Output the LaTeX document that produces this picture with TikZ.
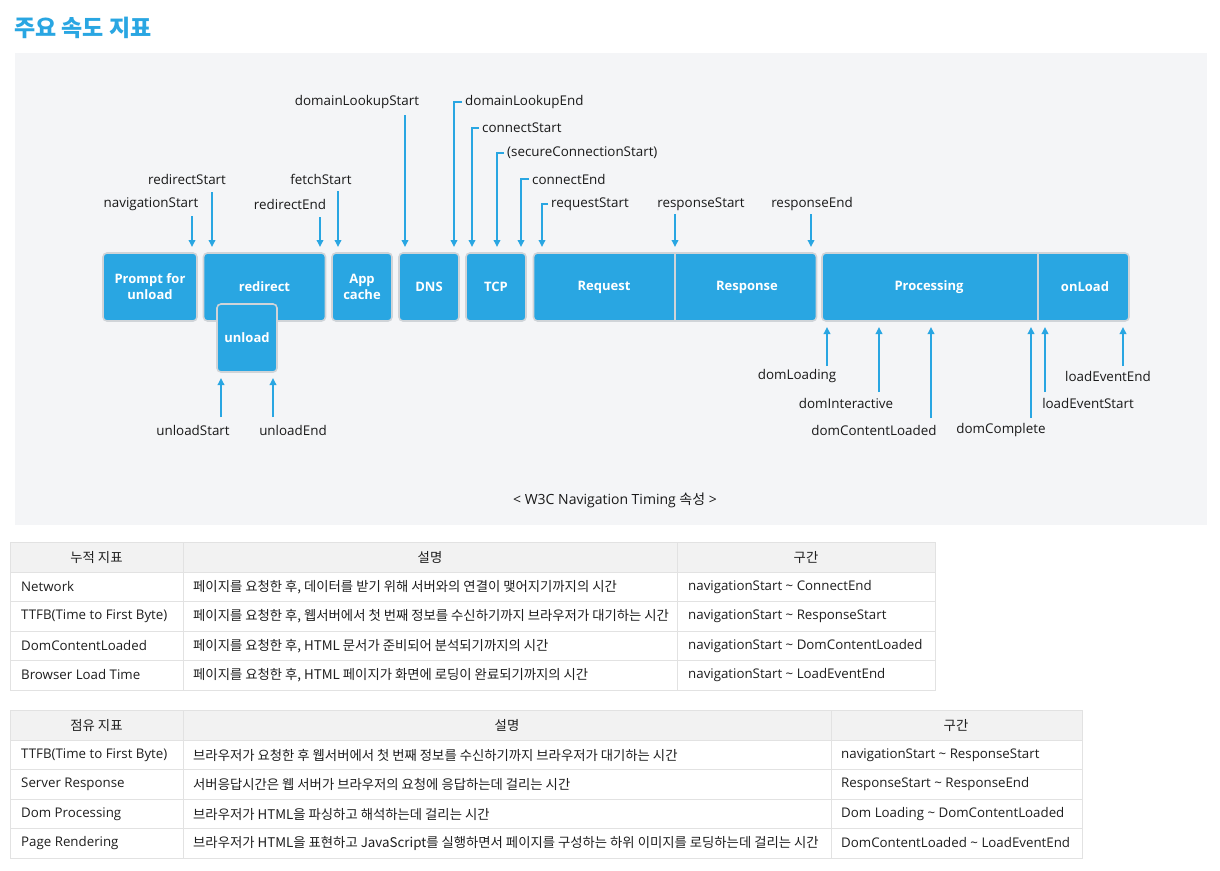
\documentclass[tikz,border=0pt]{standalone}
\usepackage{fontspec}
\setmainfont{Open Sans}
\newfontfamily\kr{Noto Sans CJK KR}
\usetikzlibrary{arrows.meta}
\definecolor{tblue}{RGB}{41,166,226}
\definecolor{bgray}{RGB}{208,212,216}
\definecolor{panel}{RGB}{244,245,247}
\definecolor{ltext}{RGB}{25,25,25}
\definecolor{tline}{RGB}{226,226,226}
\definecolor{thead}{RGB}{242,242,242}
\definecolor{ttext}{RGB}{30,30,30}
\newcommand\boxf{\fontsize{13}{16}\selectfont\bfseries}
\newcommand\labf{\fontsize{13.4}{16}\selectfont}
\newcommand\tabf{\fontsize{13.3}{16}\selectfont}
\newcommand\tabk{\kr\fontsize{13.35}{16}\selectfont}
\begin{document}
\begin{tikzpicture}[x=1pt,y=-1pt,
  box/.style={draw=bgray, line width=1.6pt, fill=tblue, rounded corners=4pt, text=white, font=\boxf, align=center, inner sep=0pt},
  boxtext/.style={text=white, font=\boxf, align=center, inner sep=0pt},
  lab/.style={font=\labf, text=ltext, inner sep=0pt},
  arr/.style={draw=tblue, line width=1.8pt, -{Triangle[length=7pt,width=6.5pt]}},
  divider/.style={draw=bgray, line width=1.6pt},
  cellL/.style={font=\tabf, text=ttext, inner sep=0pt, anchor=west},
  cellK/.style={font=\tabk, text=ttext, inner sep=0pt, anchor=west},
  head/.style={font=\tabk, text=ttext, inner sep=0pt},
  grid/.style={draw=tline, line width=1pt}]
\useasboundingbox (0,0) rectangle (1220,870);
\fill[white] (0,0) rectangle (1220,870);
% title
\node[font=\kr\fontsize{23}{26}\selectfont\bfseries, text=tblue, anchor=west, inner sep=0pt] (title) at (14,28) {주요 속도 지표};
% panel
\fill[panel] (15,53) rectangle (1207,525);

% boxes
\node[box, minimum width=94pt, minimum height=68pt] (prompt) at (150,287) {Prompt for\\unload};
\node[box, minimum width=122pt, minimum height=68pt] (redirect) at (264.5,287) {};
\node[boxtext] (redirectT) at (264.5,287) {redirect};
\node[box, minimum width=60pt, minimum height=68pt] (unload) at (247,338) {unload};
\node[box, minimum width=60pt, minimum height=68pt] (appcache) at (362,287) {App\\cache};
\node[box, minimum width=60pt, minimum height=68pt] (dns) at (429,287) {DNS};
\node[box, minimum width=60pt, minimum height=68pt] (tcp) at (496,287) {TCP};
\node[box, minimum width=283pt, minimum height=68pt] (reqresp) at (675,287) {};
\draw[divider] (675,254) -- (675,320);
\node[boxtext] (request) at (604,287) {Request};
\node[boxtext] (response) at (747,287) {Response};
\node[box, minimum width=307pt, minimum height=68pt] (procload) at (975.5,287) {};
\draw[divider] (1038,254) -- (1038,320);
\node[boxtext] (processing) at (929,287) {Processing};
\node[boxtext] (onload) at (1085,287) {onLoad};

% top labels and arrows
\node[lab] (navS) at (151,204) {navigationStart};
\coordinate (navA) at (192,216); \coordinate (navB) at (192,247);
\draw[arr] (navA) -- (navB);
\node[lab] (redS) at (187,179) {redirectStart};
\coordinate (redSA) at (212,192); \coordinate (redSB) at (212,247);
\draw[arr] (redSA) -- (redSB);
\node[lab] (redE) at (290,204) {redirectEnd};
\coordinate (redEA) at (320,217); \coordinate (redEB) at (320,247);
\draw[arr] (redEA) -- (redEB);
\node[lab] (fetS) at (321,179) {fetchStart};
\coordinate (fetA) at (338,191); \coordinate (fetB) at (338,247);
\draw[arr] (fetA) -- (fetB);
\node[lab] (dlS) at (357,102) {domainLookupStart};
\coordinate (dlSA) at (405,115); \coordinate (dlSB) at (405,247);
\draw[arr] (dlSA) -- (dlSB);
\node[lab, anchor=west] (dlE) at (465,102) {domainLookupEnd};
\coordinate (dlEB) at (454,247);
\draw[arr] ([xshift=-3pt]dlE.west) -| (dlEB);
\node[lab, anchor=west] (conS) at (482,128) {connectStart};
\coordinate (conSB) at (472,247);
\draw[arr] ([xshift=-3pt]conS.west) -| (conSB);
\node[lab, anchor=west] (secS) at (507,153) {(secureConnectionStart)};
\coordinate (secSB) at (497,247);
\draw[arr] ([xshift=-3pt]secS.west) -| (secSB);
\node[lab, anchor=west] (conE) at (532,179) {connectEnd};
\coordinate (conEB) at (521,247);
\draw[arr] ([xshift=-3pt]conE.west) -| (conEB);
\node[lab, anchor=west] (reqS) at (551,204) {requestStart};
\coordinate (reqSB) at (542,247);
\draw[arr] ([xshift=-3pt]reqS.west) -| (reqSB);
\node[lab] (resS) at (701,204) {responseStart};
\coordinate (resSA) at (675,214); \coordinate (resSB) at (675,247);
\draw[arr] (resSA) -- (resSB);
\node[lab] (resE) at (812,204) {responseEnd};
\coordinate (resEA) at (811,214); \coordinate (resEB) at (811,247);
\draw[arr] (resEA) -- (resEB);

% bottom labels and arrows
\node[lab] (unlS) at (193,430) {unloadStart};
\coordinate (unlSA) at (221,417); \coordinate (unlSB) at (221,378);
\draw[arr] (unlSA) -- (unlSB);
\node[lab] (unlE) at (293,430) {unloadEnd};
\coordinate (unlEA) at (273,417); \coordinate (unlEB) at (273,378);
\draw[arr] (unlEA) -- (unlEB);
\node[lab] (domL) at (797,376) {domLoading};
\coordinate (domLA) at (827,366); \coordinate (domLB) at (827,327);
\draw[arr] (domLA) -- (domLB);
\node[lab] (domI) at (846,403) {domInteractive};
\coordinate (domIA) at (879,392); \coordinate (domIB) at (879,327);
\draw[arr] (domIA) -- (domIB);
\node[lab] (domCL) at (874,430) {domContentLoaded};
\coordinate (domCLA) at (931,418); \coordinate (domCLB) at (931,327);
\draw[arr] (domCLA) -- (domCLB);
\node[lab] (domC) at (1001,430) {domComplete};
\coordinate (domCA) at (1031,418); \coordinate (domCB) at (1031,327);
\draw[arr] (domCA) -- (domCB);
\node[lab] (leS) at (1088,403) {loadEventStart};
\coordinate (leSA) at (1045,392); \coordinate (leSB) at (1045,327);
\draw[arr] (leSA) -- (leSB);
\node[lab] (leE) at (1108,376) {loadEventEnd};
\coordinate (leEA) at (1123,366); \coordinate (leEB) at (1123,327);
\draw[arr] (leEA) -- (leEB);

% caption
\node[font=\fontsize{14}{17}\selectfont, text=ltext, inner sep=0pt] (caption) at (615,500) {< W3C Navigation Timing {\kr 속성} >};

% table 1
\fill[thead] (10,542) rectangle (935,572);
\draw[grid] (10,542) rectangle (935,690);
\foreach \yy in {572,601,631,660} \draw[grid] (10,\yy) -- (935,\yy);
\foreach \xx in {183,677} \draw[grid] (\xx,542) -- (\xx,690);
\node[head] (h1a) at (96.5,557) {누적 지표};
\node[head] (h1b) at (430,557) {설명};
\node[head] (h1c) at (806,557) {구간};
\node[cellL] (r1a) at (21,587) {Network};
\node[cellK] (r1b) at (193,587) {페이지를 요청한 후, 데이터를 받기 위해 서버와의 연결이 맺어지기까지의 시간};
\node[cellL] (r1c) at (688,587) {navigationStart \textasciitilde{} ConnectEnd};
\node[cellL] (r2a) at (21,616) {TTFB(Time to First Byte)};
\node[cellK] (r2b) at (193,616) {페이지를 요청한 후, 웹서버에서 첫 번째 정보를 수신하기까지 브라우저가 대기하는 시간};
\node[cellL] (r2c) at (688,616) {navigationStart \textasciitilde{} ResponseStart};
\node[cellL] (r3a) at (21,646) {DomContentLoaded};
\node[cellK] (r3b) at (193,646) {페이지를 요청한 후, HTML 문서가 준비되어 분석되기까지의 시간};
\node[cellL] (r3c) at (688,646) {navigationStart \textasciitilde{} DomContentLoaded};
\node[cellL] (r4a) at (21,675) {Browser Load Time};
\node[cellK] (r4b) at (193,675) {페이지를 요청한 후, HTML 페이지가 화면에 로딩이 완료되기까지의 시간};
\node[cellL] (r4c) at (688,675) {navigationStart \textasciitilde{} LoadEventEnd};

% table 2
\fill[thead] (10,710) rectangle (1082,740);
\draw[grid] (10,710) rectangle (1082,858);
\foreach \yy in {740,769,799,828} \draw[grid] (10,\yy) -- (1082,\yy);
\foreach \xx in {183,831} \draw[grid] (\xx,710) -- (\xx,858);
\node[head] (h2a) at (96.5,725) {점유 지표};
\node[head] (h2b) at (507,725) {설명};
\node[head] (h2c) at (956,725) {구간};
\node[cellL] (s1a) at (21,755) {TTFB(Time to First Byte)};
\node[cellK] (s1b) at (193,755) {브라우저가 요청한 후 웹서버에서 첫 번째 정보를 수신하기까지 브라우저가 대기하는 시간};
\node[cellL] (s1c) at (841,755) {navigationStart \textasciitilde{} ResponseStart};
\node[cellL] (s2a) at (21,784) {Server Response};
\node[cellK] (s2b) at (193,784) {서버응답시간은 웹 서버가 브라우저의 요청에 응답하는데 걸리는 시간};
\node[cellL] (s2c) at (841,784) {ResponseStart \textasciitilde{} ResponseEnd};
\node[cellL] (s3a) at (21,814) {Dom Processing};
\node[cellK] (s3b) at (193,814) {브라우저가 HTML을 파싱하고 해석하는데 걸리는 시간};
\node[cellL] (s3c) at (841,814) {Dom Loading \textasciitilde{} DomContentLoaded};
\node[cellL] (s4a) at (21,843) {Page Rendering};
\node[cellK] (s4b) at (193,843) {브라우저가 HTML을 표현하고 JavaScript를 실행하면서 페이지를 구성하는 하위 이미지를 로딩하는데 걸리는 시간};
\node[cellL] (s4c) at (841,843) {DomContentLoaded \textasciitilde{} LoadEventEnd};
\end{tikzpicture}
\end{document}
